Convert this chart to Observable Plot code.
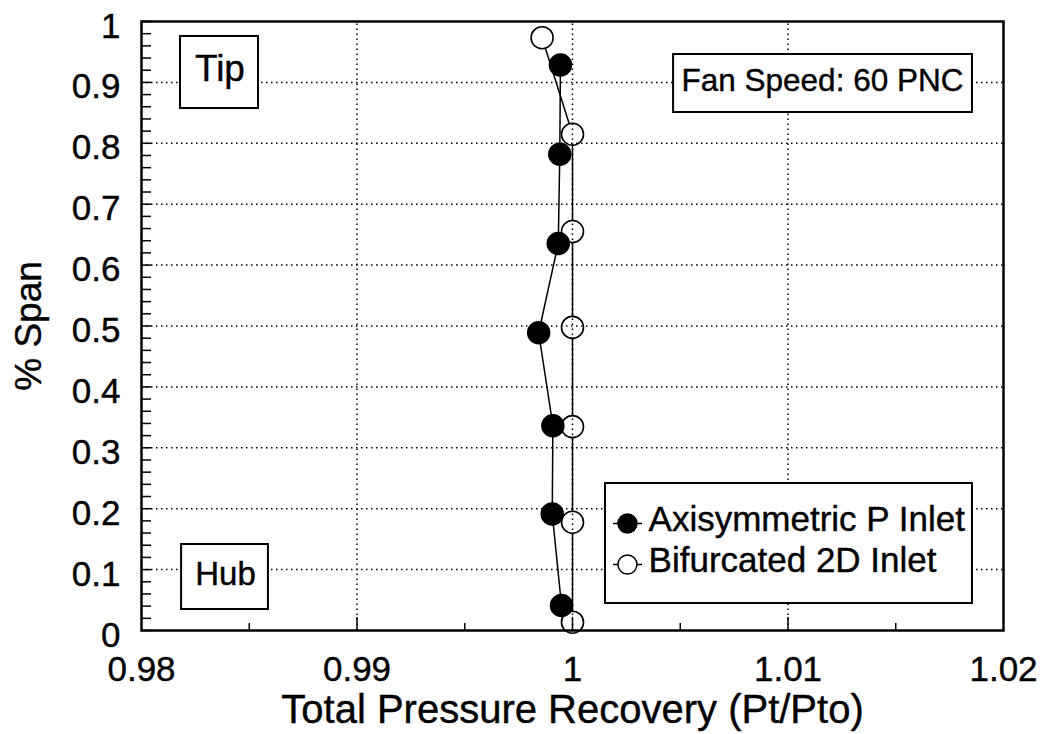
<!DOCTYPE html>
<html><head><meta charset="utf-8">
<script src="https://cdn.jsdelivr.net/npm/d3@7"></script>
<script src="https://cdn.jsdelivr.net/npm/@observablehq/plot@0.6"></script>
<style>body{margin:0;background:#fff} #chart svg{display:block}</style>
</head><body><div id="chart"></div>
<script>
// ---- data ----
const seriesNames = ["Axisymmetric P Inlet", "Bifurcated 2D Inlet"];
const spanAxi = [0.041, 0.1915, 0.3363, 0.4889, 0.6355, 0.7821, 0.9286];
const recoveryAxi = [0.99949, 0.99906, 0.99909, 0.99843, 0.99934, 0.99941, 0.99944];
const spanBif = [0.0136, 0.1777, 0.3347, 0.4977, 0.6551, 0.8149, 0.9734];
const recoveryBif = [1.0, 1.0, 1.0, 1.0, 1.0, 1.0, 0.99859];
const xTicks = [0.98, 0.99, 1.0, 1.01, 1.02];
const xTickLabels = ["0.98", "0.99", "1", "1.01", "1.02"];
const yTicks = [0, 0.1, 0.2, 0.3, 0.4, 0.5, 0.6, 0.7, 0.8, 0.9, 1];
const yTickLabels = ["0", "0.1", "0.2", "0.3", "0.4", "0.5", "0.6", "0.7", "0.8", "0.9", "1"];
const xTitle = "Total Pressure Recovery (Pt/Pto)";
const yTitle = "% Span";
const notes = ["Tip", "Hub", "Fan Speed: 60 PNC"];

// ---- layout ----
const W = 1047, H = 734, mL = 141, mR = 44, mT = 21, mB = 104;
const xDomain = [0.98, 1.02], yDomain = [0, 1];
const ux = (xDomain[1] - xDomain[0]) / (W - mL - mR); // data units per px
const uy = (yDomain[1] - yDomain[0]) / (H - mT - mB);
const font = "Liberation Sans, Arial, Helvetica, sans-serif";
const heavy = {fill: "black", stroke: "black", strokeWidth: 0.4};

const axi = spanAxi.map((s, i) => ({x: recoveryAxi[i], y: s}));
const bif = spanBif.map((s, i) => ({x: recoveryBif[i], y: s}));

const yMinor = d3.range(0, 51).map(i => i * 0.02);
const xMinor = [0.985, 0.995, 1.005, 1.015];
const xMajorGrid = xTicks.slice(1, -1);
const yMajorGrid = yTicks.slice(1, -1);

// annotation boxes (data units)
const boxes = [
  {x1: 0.98181, x2: 0.98543, y1: 0.8571, y2: 0.9754},
  {x1: 0.98186, x2: 0.98589, y1: 0.0345, y2: 0.1412},
  {x1: 1.00469, x2: 1.01856, y1: 0.8506, y2: 0.9458}
];
const noteText = [
  {x: 0.98364, y: 0.9015, t: notes[0], fs: 37},
  {x: 0.98390, y: 0.0755, t: notes[1], fs: 33},
  {x: 1.01160, y: 0.8856, t: notes[2], fs: 31.5}
];
const legendBox = [{x1: 1.00153, x2: 1.01856, y1: 0.0443, y2: 0.2414}];
const legendRows = [
  {name: seriesNames[0], my: 0.1757, ty: 0.1642, filled: true},
  {name: seriesNames[1], my: 0.1084, ty: 0.0957, filled: false}
];
const legMx = 1.00255, legL1 = 1.00190, legL2 = 1.00325, legTx = 1.00353;

const grid = {stroke: "black", strokeWidth: 1.5, strokeDasharray: "1.5,3.5"};

const chart = Plot.plot({
  width: W, height: H,
  marginLeft: mL, marginRight: mR, marginTop: mT, marginBottom: mB,
  x: {domain: xDomain, axis: null},
  y: {domain: yDomain, axis: null},
  style: {fontFamily: font, background: "white", color: "black"},
  marks: [
    Plot.line(axi, {x: "x", y: "y", stroke: "black", strokeWidth: 1.5}),
    Plot.line(bif, {x: "x", y: "y", stroke: "black", strokeWidth: 1.5}),
    Plot.dot(bif, {x: "x", y: "y", r: 11, fill: "white", stroke: "black", strokeWidth: 1.6}),
    Plot.dot(axi, {x: "x", y: "y", r: 11, fill: "black", stroke: "black"}),
    // dotted grid
    Plot.ruleX(xMajorGrid, {x: d => d, y1: yDomain[0], y2: yDomain[1], ...grid}),
    Plot.ruleY(yMajorGrid, {y: d => d, x1: xDomain[0], x2: xDomain[1], ...grid}),
    // inward ticks
    Plot.ruleY(yMinor, {y: d => d, x1: xDomain[0], x2: xDomain[0] + 10 * ux, stroke: "black", strokeWidth: 1.5}),
    Plot.ruleX(xMinor, {x: d => d, y1: yDomain[0], y2: yDomain[0] + 7 * uy, stroke: "black", strokeWidth: 1.5}),
    Plot.ruleX(xMajorGrid, {x: d => d, y1: yDomain[0], y2: yDomain[0] + 13 * uy, stroke: "black", strokeWidth: 1.5}),
    // annotation boxes
    Plot.rect(boxes, {x1: "x1", x2: "x2", y1: "y1", y2: "y2", fill: "white", stroke: "black", strokeWidth: 2}),
    Plot.text(noteText, {x: "x", y: "y", text: "t", fontSize: d => d.fs, lineAnchor: "bottom", textAnchor: "middle", ...heavy}),
    // legend
    Plot.rect(legendBox, {x1: "x1", x2: "x2", y1: "y1", y2: "y2", fill: "white", stroke: "black", strokeWidth: 2}),
    Plot.ruleY(legendRows, {y: "my", x1: legL1, x2: legL2, stroke: "black", strokeWidth: 1.5}),
    Plot.dot(legendRows, {x: legMx, y: "my", r: 9.5, fill: d => d.filled ? "black" : "white", stroke: "black", strokeWidth: 1.5}),
    Plot.text(legendRows, {x: legTx, y: "ty", text: "name", fontSize: 35, textAnchor: "start", lineAnchor: "bottom", ...heavy}),
    // frame
    Plot.frame({stroke: "black", strokeWidth: 2.5}),
    // tick labels
    Plot.text(xTicks, {x: d => d, text: (d, i) => xTickLabels[i], frameAnchor: "bottom", dy: 50, lineAnchor: "bottom", textAnchor: "middle", fontSize: 35, ...heavy}),
    Plot.text(yTicks, {y: d => d, text: (d, i) => yTickLabels[i], frameAnchor: "left", dx: -21, dy: 16, lineAnchor: "bottom", textAnchor: "end", fontSize: 35, ...heavy}),
    // axis titles
    Plot.text([xTitle], {frameAnchor: "bottom", dy: 92, lineAnchor: "bottom", textAnchor: "middle", fontSize: 40, ...heavy}),
    Plot.text([yTitle], {frameAnchor: "left", dx: -101, rotate: -90, lineAnchor: "bottom", textAnchor: "middle", fontSize: 37, ...heavy})
  ]
});
document.getElementById("chart").appendChild(chart);
</script>
</body></html>
